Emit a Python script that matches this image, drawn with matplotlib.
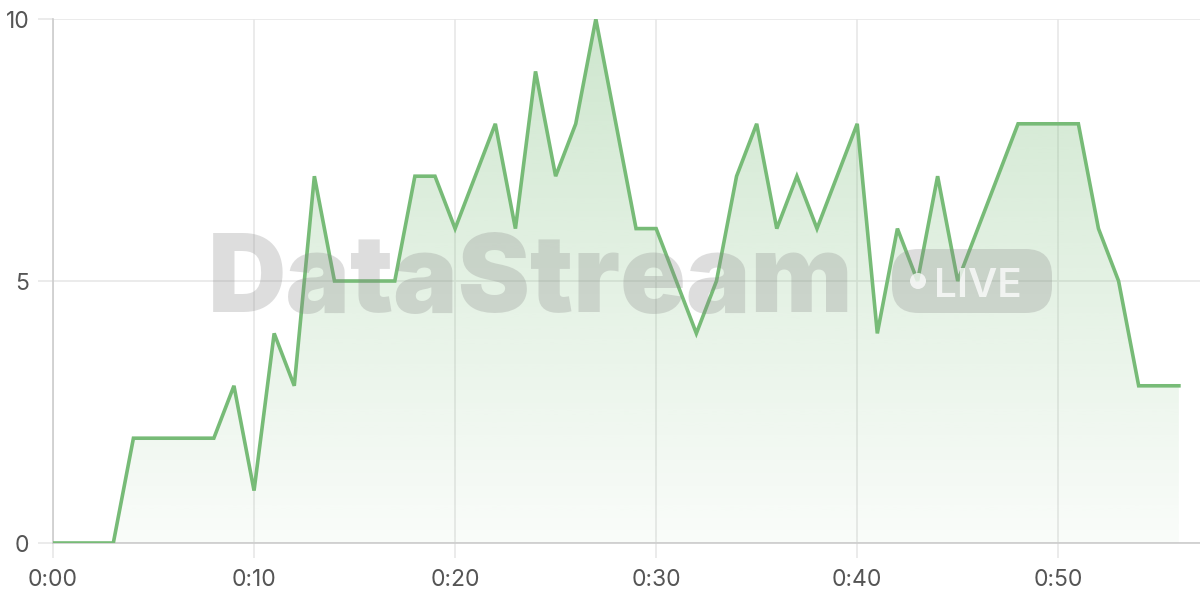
import numpy as np
import matplotlib
matplotlib.use("Agg")
import matplotlib.pyplot as plt
from matplotlib.patches import FancyBboxPatch, Ellipse

# minutes since start, one reading per minute
minutes = list(range(57))
values = [0, 0, 0, 0, 2, 2, 2, 2, 2, 3,
          1, 4, 3, 7, 5, 5, 5, 5, 7, 7,
          6, 7, 8, 6, 9, 7, 8, 10, 8, 6,
          6, 5, 4, 5, 7, 8, 6, 7, 6, 7,
          8, 4, 6, 5, 7, 5, 6, 7, 8, 8,
          8, 8, 6, 5, 3, 3, 3]
xticks = [0, 10, 20, 30, 40, 50]
xtick_labels = ["0:00", "0:10", "0:20", "0:30", "0:40", "0:50"]
yticks = [0, 5, 10]

line_col = "#77bb77"
grid_col = "#e6e6e6"
axis_col = "#cccccc"
text_col = "#555555"

plt.rcParams['font.family'] = ['Inter', 'DejaVu Sans']

fig = plt.figure(figsize=(12, 6), dpi=100)
ax = fig.add_axes([53/1200, 57/600, 1 - 53/1200, 524/600])

x = np.array(minutes)
y = np.array(values)

ax.set_xlim(0, 57.05)
ax.set_ylim(0, 10)

# gradient fill under the line
grad = np.linspace(0.36, 0.04, 256).reshape(-1, 1)
rgba = np.zeros((256, 1, 4))
rgba[..., 0] = 0x77 / 255
rgba[..., 1] = 0xbb / 255
rgba[..., 2] = 0x77 / 255
rgba[..., 3] = grad
im = ax.imshow(rgba, extent=[x.min(), x.max(), 0, 10], origin='upper',
               aspect='auto', zorder=1, interpolation='bilinear')
poly = ax.fill_between(x, y, 0, color='none', lw=0)
im.set_clip_path(poly.get_paths()[0], transform=ax.transData)

ax.plot(x, y, color=line_col, lw=2.6, zorder=3, solid_joinstyle='miter')

ax.set_xticks(xticks)
ax.set_xticklabels(xtick_labels)
ax.set_yticks(yticks)
ax.grid(True, color=grid_col, lw=1.1, zorder=0)
ax.set_axisbelow(True)
for s in ['top', 'right']:
    ax.spines[s].set_visible(False)
for s in ['left', 'bottom']:
    ax.spines[s].set_color(axis_col)
    ax.spines[s].set_linewidth(1.2)
ax.tick_params(axis='both', colors=grid_col, length=11, width=1.1,
               labelcolor=text_col, labelsize=16.5)
ax.tick_params(axis='x', pad=8)
ax.tick_params(axis='y', pad=6)

# watermark
fig.text(208/1200, 1 - 312/600, "DataStream", fontsize=78, fontweight='black',
         color='#888888', alpha=0.28, ha='left', va='baseline', zorder=5,
         family=['Inter', 'DejaVu Sans'])
badge = FancyBboxPatch((892/1200, 1 - 313/600), 160/1200, 64/600,
                       boxstyle="round,pad=0,rounding_size=0.022",
                       transform=fig.transFigure, facecolor='#888888',
                       edgecolor='none', alpha=0.28, zorder=5,
                       mutation_aspect=2)
fig.patches.append(badge)
fig.patches.append(Ellipse((918/1200, 1 - 281/600), 16/1200, 16/600,
                           transform=fig.transFigure, facecolor='white',
                           alpha=0.75, zorder=6))
fig.text(934/1200, 1 - 297/600, "LIVE", fontsize=29, color='white',
         fontweight='semibold', alpha=0.75, ha='left', va='baseline',
         zorder=6, family=['Inter', 'DejaVu Sans'])

fig.savefig("out.png", dpi=100)
